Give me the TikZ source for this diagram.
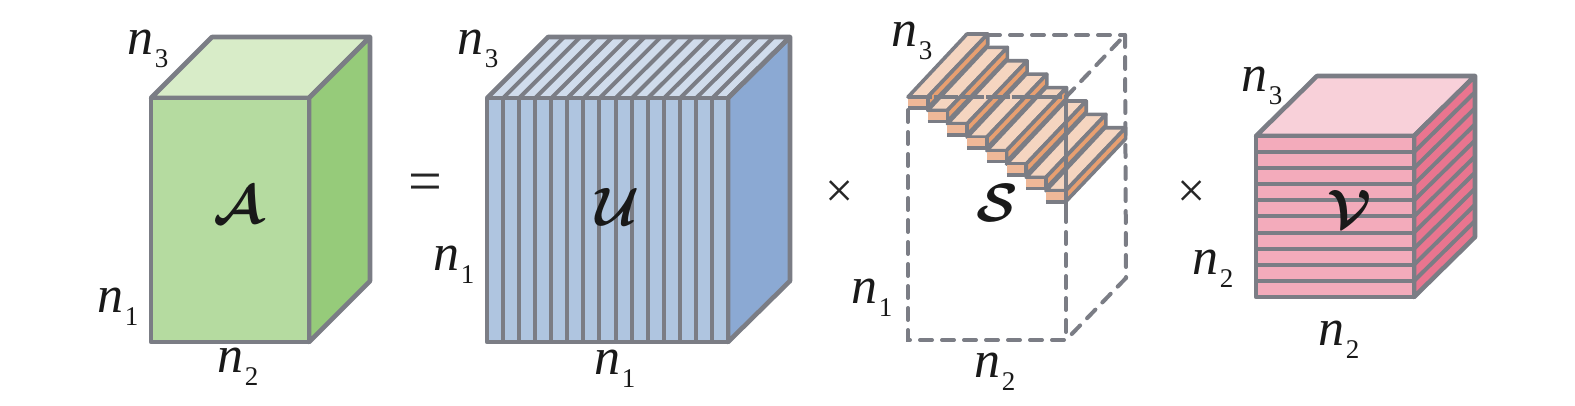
\documentclass[tikz,border=0pt]{standalone}
\usepackage{fontspec}
\usepackage{amsmath}
\usepackage{bm}
\setmainfont{Liberation Serif}
\definecolor{edge}{HTML}{7B7D85}
\definecolor{Af}{HTML}{B5DBA0}\definecolor{At}{HTML}{D8ECC8}\definecolor{Ar}{HTML}{96CB7A}
\definecolor{Uf}{HTML}{AFC5E0}\definecolor{Ut}{HTML}{D0DCEC}\definecolor{Ur}{HTML}{8BA9D3}
\definecolor{St}{HTML}{F5D5C0}\definecolor{Sf}{HTML}{EFB898}\definecolor{Sr}{HTML}{E89F70}
\definecolor{Vf}{HTML}{F3ABBB}\definecolor{Vt}{HTML}{F8D0D9}\definecolor{Vr}{HTML}{E9758F}
\newcommand{\nsub}[1]{\textit{n}\kern1pt\raisebox{-13pt}{\fontsize{27}{27}\selectfont #1}}
\newcommand{\bigcal}[1]{$\bm{\mathcal{#1}}$}
\tikzset{
  edgeline/.style={draw=edge,line width=4.6pt,line join=round},
  thinline/.style={draw=edge,line width=4pt,line join=round},
  dashline/.style={draw=edge,line width=4pt,line cap=round,dash pattern=on 12pt off 10pt},
  slabline/.style={draw=edge,line width=3.6pt,line join=round},
  dimlabel/.style={inner sep=0pt,font=\fontsize{52}{52}\selectfont,text=black!90},
  letter/.style={inner sep=0pt,scale=5.4,text=black!90}
}
\begin{document}
\begin{tikzpicture}[x=1pt,y=-1pt]
\useasboundingbox (0,0) rectangle (1575,406);
% --- cube A
\path[fill=At,edgeline] (151,98) -- (212,37) -- (370,37) -- (309,98) -- cycle;
\path[fill=Ar,edgeline] (309,98) -- (370,37) -- (370,281) -- (309,342) -- cycle;
\path[fill=Af,edgeline] (151,98) rectangle (309,342);
% --- cube U
\path[fill=Ut] (487,98) -- (548,37) -- (790,37) -- (728,98) -- cycle;
\foreach \i in {1,...,14}{
  \draw[thinline] ({487+\i*16.1},98) -- ({548+\i*16.13},37);
  }
\path[fill=Ur,edgeline] (728,98) -- (790,37) -- (790,281) -- (728,342) -- cycle;
\path[fill=Uf] (487,98) rectangle (728,342);
\foreach \i in {1,...,14}{
  \draw[thinline] ({487+\i*16.07},98) -- ({487+\i*16.07},342);
}
\path[edgeline] (487,98) -- (548,37) -- (790,37) -- (728,98);
\path[edgeline] (487,98) rectangle (728,342);
% --- core S : hidden edges behind the slabs
\draw[dashline] (966,35) -- (1125,35);
\draw[dashline] (1125,35) -- (1126,278);
\draw[dashline] (1126,278) -- (1066,340);
\draw[dashline] (1066,97) -- (1125,35);
% slabs
\foreach \i in {0,...,7}{
  \pgfmathsetmacro{\xa}{908+\i*19.7}
  \pgfmathsetmacro{\ya}{97+\i*13.4}
  \pgfmathsetmacro{\xb}{\xa+19.7}
  \pgfmathsetmacro{\yb}{\ya+11}
  \path[fill=St,slabline] (\xa,\ya) -- ({\xa+59},{\ya-63}) -- ({\xb+60},{\ya-63}) -- (\xb,\ya) -- cycle;
  \path[fill=Sr,slabline] (\xb,\ya) -- ({\xb+60},{\ya-63}) -- ({\xb+60},{\yb-63}) -- (\xb,\yb) -- cycle;
  \path[fill=Sf] (\xa,\ya) rectangle (\xb,\yb);
  \draw[slabline,line width=2.6pt] (\xa,\ya) -- (\xb,\ya);
  \draw[slabline] (\xa,\yb) -- (\xb,\yb);
  \draw[slabline] (\xb,\ya) -- (\xb,\yb);
}
% front edges
\draw[dashline] (908,110) -- (908,340) -- (1066,340);
\draw[slabline,dash pattern=on 24pt off 2pt] (908,97) -- (1066,97);
\draw[thinline] (1066,97) -- (1066,210);
\draw[dashline] (1066,210) -- (1066,340);
% --- cube V
\path[fill=Vt,edgeline] (1256,136) -- (1317,76) -- (1475,76) -- (1414,136) -- cycle;
\path[fill=Vr,edgeline] (1414,136) -- (1475,76) -- (1475,237) -- (1414,297) -- cycle;
\foreach \i in {1,...,9}{
  \draw[thinline] (1414,{136+\i*16.1}) -- (1475,{76+\i*16.1});
}
\path[fill=Vf] (1256,136) rectangle (1414,297);
\foreach \i in {1,...,9}{
  \draw[thinline] (1256,{136+\i*16.1}) -- (1414,{136+\i*16.1});
}
\path[edgeline] (1256,136) rectangle (1414,297);
% --- labels
\node[dimlabel] (An3) at (148,49) {\nsub{3}};
\node[dimlabel] (An1) at (118,307) {\nsub{1}};
\node[dimlabel] (An2) at (238,367) {\nsub{2}};
\node[letter] (Al) at (238,205) {\bigcal{A}};
\node[inner sep=0pt,font=\fontsize{60}{60}\selectfont,text=black!85] (eq) at (425,188) {=};
\node[dimlabel] (Un3) at (478,49) {\nsub{3}};
\node[dimlabel] (Un1) at (454,265) {\nsub{1}};
\node[dimlabel] (Un1b) at (615,369) {\nsub{1}};
\node[letter] (Ul) at (618,207) {\bigcal{U}};
\node[inner sep=0pt,font=\fontsize{50}{50}\selectfont,text=black!85] (t1) at (840,194) {×};
\node[dimlabel] (Sn3) at (912,41) {\nsub{3}};
\node[dimlabel] (Sn1) at (872,298) {\nsub{1}};
\node[dimlabel] (Sn2) at (995,372) {\nsub{2}};
\node[letter] (Sl) at (997,203) {\bigcal{S}};
\node[inner sep=0pt,font=\fontsize{50}{50}\selectfont,text=black!85] (t2) at (1192,194) {×};
\node[dimlabel] (Vn3) at (1262,86) {\nsub{3}};
\node[dimlabel] (Vn2) at (1213,269) {\nsub{2}};
\node[dimlabel] (Vn2b) at (1339,340) {\nsub{2}};
\node[letter] (Vl) at (1350,209) {\bigcal{V}};
\end{tikzpicture}
\end{document}
